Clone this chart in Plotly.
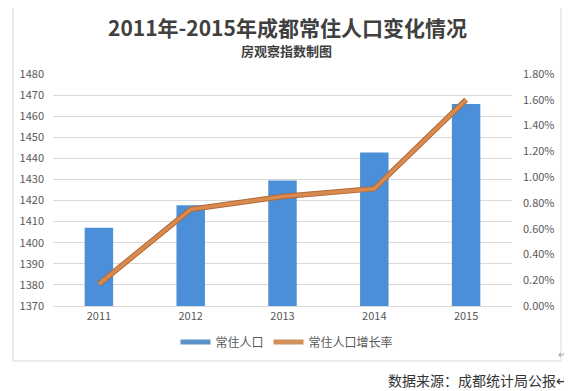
import plotly.graph_objects as go

years = ["2011", "2012", "2013", "2014", "2015"]
population = [1407.1, 1417.8, 1429.5, 1442.8, 1465.8]
growth_rate = [0.0017, 0.0075, 0.0085, 0.0091, 0.0160]

title_text = "2011年-2015年成都常住人口变化情况"
subtitle_text = "房观察指数制图"
source_text = "数据来源：成都统计局公报↵"
bar_name = "常住人口"
line_name = "常住人口增长率"

FONT = "Noto Sans CJK SC"
BLUE = "#4a8fd8"
ORANGE = "#d98a4e"

# page body margin offsets the figure by 8px; work in screen coordinates
OFF = 8
W, H = 572 - OFF, 391 - OFF
# plot area in screen coords: x 53..512, y 74..306
SL, SR, ST, SB = 53, 512, 74, 306
L, T = SL - OFF, ST - OFF
R, B = W - (SR - OFF), H - (SB - OFF)
pw, ph = SR - SL, SB - ST

def px(x):
    return (x - SL) / pw

def py(y):
    return (SB - y) / ph

fig = go.Figure()
fig.add_trace(go.Bar(
    x=years, y=population, name=bar_name, marker=dict(color=BLUE, line=dict(width=0)),
    width=0.31, showlegend=False, yaxis="y"))
fig.add_trace(go.Scatter(
    x=years, y=growth_rate, name=line_name, mode="lines",
    line=dict(color="#b06a3a", width=5.5), yaxis="y2", showlegend=False, hoverinfo="skip"))
fig.add_trace(go.Scatter(
    x=years, y=growth_rate, name=line_name, mode="lines",
    line=dict(color=ORANGE, width=3.5), yaxis="y2", showlegend=False))
# legend entries
fig.add_trace(go.Scatter(x=[None], y=[None], mode="lines", name=bar_name,
                         line=dict(color="#5b93c8", width=5), yaxis="y"))
fig.add_trace(go.Scatter(x=[None], y=[None], mode="lines", name=line_name,
                         line=dict(color="#d09058", width=5), yaxis="y"))

fig.update_layout(
    width=W, height=H,
    margin=dict(l=L, r=R, t=T, b=B, autoexpand=False),
    paper_bgcolor="white", plot_bgcolor="white",
    font=dict(family=FONT, color="#595959", size=11),
    xaxis=dict(type="category", showgrid=False, showline=True, linecolor="#d9d9d9",
               linewidth=1, ticks="", tickfont=dict(size=11, color="#595959"),
               zeroline=False),
    yaxis=dict(range=[1370, 1480], dtick=10, tick0=1370, showgrid=True, gridcolor="#d9d9d9",
               gridwidth=1, zeroline=False, showline=False, ticks="",
               ticklabelstandoff=8, tickfont=dict(size=11, color="#595959")),
    yaxis2=dict(range=[0, 0.018], dtick=0.002, overlaying="y", side="right",
                showgrid=False, zeroline=False, showline=False, ticks="",
                tickformat=".2%", ticklabelstandoff=10,
                tickfont=dict(size=11, color="#595959")),
    legend=dict(orientation="h", x=px(287), xanchor="center", y=py(342), yanchor="middle",
                font=dict(size=12, color="#595959"), itemwidth=30, traceorder="normal",
                bgcolor="rgba(0,0,0,0)"),
    showlegend=True,
)

fig.add_annotation(text="<b>" + title_text + "</b>", xref="paper", yref="paper",
                   x=px(287), y=py(27), xanchor="center", yanchor="middle", showarrow=False,
                   font=dict(family=FONT, size=21, color="#404040"))
fig.add_annotation(text="<b>" + subtitle_text + "</b>", xref="paper", yref="paper",
                   x=px(286), y=py(50), xanchor="center", yanchor="middle", showarrow=False,
                   font=dict(family=FONT, size=13, color="#404040"))
fig.add_annotation(text=source_text, xref="paper", yref="paper",
                   x=px(570), y=py(380), xanchor="right", yanchor="middle", showarrow=False,
                   font=dict(family=FONT, size=14, color="#333333"))
fig.add_annotation(text="↵", xref="paper", yref="paper",
                   x=px(568), y=py(353), xanchor="right", yanchor="middle", showarrow=False,
                   font=dict(family=FONT, size=10, color="#999999"))

fig.add_shape(type="rect", xref="paper", yref="paper",
              x0=px(13), x1=px(561), y0=py(361), y1=py(3),
              line=dict(color="#d9d9d9", width=1), fillcolor="rgba(0,0,0,0)", layer="below")

fig.write_html("out.html")
